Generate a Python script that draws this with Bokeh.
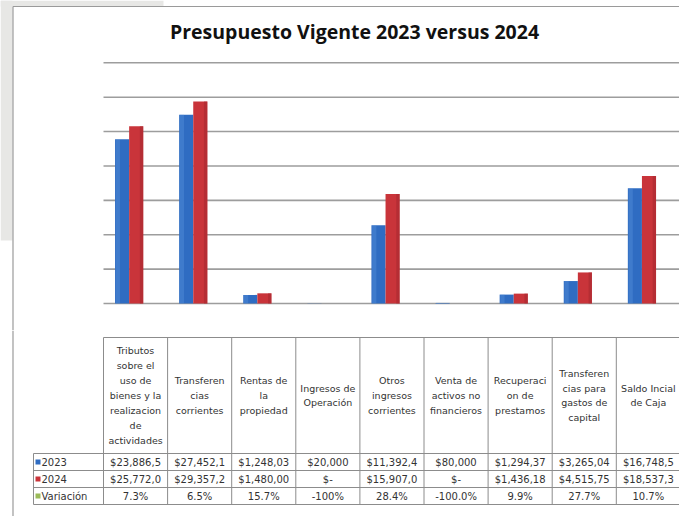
from bokeh.plotting import figure
from bokeh.layouts import column
from bokeh.models import Range1d, Label
from bokeh.embed import file_html
from bokeh.resources import INLINE
from bokeh.core.properties import value

# ---------------- data ----------------
categories = [
    "Tributos\nsobre el\nuso de\nbienes y la\nrealizacion\nde\nactividades",
    "Transferen\ncias\ncorrientes",
    "Rentas de\nla\npropiedad",
    "Ingresos de\nOperación",
    "Otros\ningresos\ncorrientes",
    "Venta de\nactivos no\nfinancieros",
    "Recuperaci\non de\nprestamos",
    "Transferen\ncias para\ngastos de\ncapital",
    "Saldo Incial\nde Caja",
]
values_2023 = [23886.5, 27452.1, 1248.03, 20.0, 11392.4, 80.0, 1294.37, 3265.04, 16748.5]
values_2024 = [25772.0, 29357.2, 1480.00, 0.0, 15907.0, 0.0, 1436.18, 4515.75, 18537.3]
labels_2023 = ["$23,886,5", "$27,452,1", "$1,248,03", "$20,000", "$11,392,4",
               "$80,000", "$1,294,37", "$3,265,04", "$16,748,5"]
labels_2024 = ["$25,772,0", "$29,357,2", "$1,480,00", "$-", "$15,907,0",
               "$-", "$1,436,18", "$4,515,75", "$18,537,3"]
labels_var = ["7.3%", "6.5%", "15.7%", "-100%", "28.4%", "-100.0%", "9.9%", "27.7%", "10.7%"]
series_names = ["2023", "2024", "Variación"]
grid_values = [0, 5000, 10000, 15000, 20000, 25000, 30000, 35000]
title_text = "Presupuesto Vigente 2023 versus 2024"

# ---------------- layout constants (px) ----------------
W = 679
H1 = 330          # chart part
H2 = 186          # table part
col_px = 64.1     # width of one table column
col0_px = 103     # x where first category column starts
base_px = 303     # baseline y from top
top_px = 62.3     # y of max gridline from top
ymax = 35000.0
scale = (base_px - top_px) / ymax   # px per unit

x_start = -col0_px / col_px
x_end = (W - col0_px) / col_px
y_start = -(H1 - base_px) / scale
y_end = ymax + top_px / scale


def px_x(px):
    return (px - col0_px) / col_px


def px_y(py):
    return y_end - py / scale


xr = Range1d(x_start, x_end)

FONT = "Open Sans"
TFONT = "DejaVu Sans"
TXT = "#333333"
BLUE = "#2f6cc2"
BLUE_L = "#5f98e0"
RED = "#c9343a"
RED_D = "#a82a30"
GREEN = "#9bbb59"
LINE = "#8c8c8c"
FRAME = "#9a9a9a"
GRAYBG = "#e7e7e5"

p = figure(width=W, height=H1, x_range=xr, y_range=Range1d(y_start, y_end),
           x_axis_type=None, y_axis_type=None, toolbar_location=None,
           output_backend="svg", min_border=0)
p.outline_line_color = None
p.grid.visible = False

# page background decoration (gray area behind the chart box, top-left)
p.quad(left=[x_start], right=[px_x(12)], top=[y_end], bottom=[px_y(240)],
       fill_color=GRAYBG, line_color=None)
p.quad(left=[x_start], right=[px_x(163)], top=[y_end], bottom=[px_y(6)],
       fill_color=GRAYBG, line_color=None)

n = len(categories)
# gridlines
p.segment(x0=[0] * len(grid_values), x1=[x_end] * len(grid_values),
          y0=grid_values, y1=grid_values, line_color="#9d9d9d", line_width=1.6)

bw = 0.22
xc = [i + 0.5 - 0.1 for i in range(n)]
xb = [x - bw / 2 for x in xc]
xr_ = [x + bw / 2 for x in xc]
p.vbar(x=xb, top=values_2023, bottom=0, width=bw, fill_color=BLUE, line_color=None)
p.vbar(x=xr_, top=values_2024, bottom=0, width=bw, fill_color=RED, line_color=None)
# shading for a 3D look
p.vbar(x=[x - bw * 0.3 for x in xb], top=values_2023, bottom=0, width=bw * 0.3,
       fill_color=BLUE_L, fill_alpha=0.35, line_color=None)
p.vbar(x=[x + bw * 0.38 for x in xr_], top=values_2024, bottom=0, width=bw * 0.24,
       fill_color=RED_D, fill_alpha=0.6, line_color=None)

# title
p.add_layout(Label(x=px_x(354), y=px_y(31), text=title_text, text_align="center",
                   text_baseline="middle", text_font=FONT, text_font_size="19.5px",
                   text_font_style="bold", text_color="#111111"))
# chart frame borders (left and top)
p.segment(x0=[px_x(12.5)], x1=[px_x(12.5)], y0=[y_start], y1=[px_y(6)],
          line_color=FRAME, line_width=1.2)
p.segment(x0=[px_x(12.5)], x1=[x_end], y0=[px_y(6)], y1=[px_y(6)],
          line_color=FRAME, line_width=1.2)

# ---------------- table ----------------
t = figure(width=W, height=H2, x_range=xr, y_range=Range1d(H2, 0),
           x_axis_type=None, y_axis_type=None, toolbar_location=None,
           output_backend="svg", min_border=0)
t.outline_line_color = None
t.grid.visible = False

row_top = 7
row_hdr = 123
row_lines = [123, 140, 157, 174]
leg_x = px_x(33)

# frame left border continues
t.segment(x0=[px_x(12.5)], x1=[px_x(12.5)], y0=[0], y1=[H2],
          line_color=FRAME, line_width=1.2)

# vertical lines
t.segment(x0=list(range(n + 1)), x1=list(range(n + 1)),
          y0=[row_top] * (n + 1), y1=[row_lines[-1]] * (n + 1), line_color=LINE, line_width=1)
t.segment(x0=[leg_x], x1=[leg_x], y0=[row_hdr], y1=[row_lines[-1]], line_color=LINE, line_width=1)
# horizontal lines
t.segment(x0=[0], x1=[n], y0=[row_top], y1=[row_top], line_color=LINE, line_width=1)
t.segment(x0=[leg_x] * len(row_lines), x1=[n] * len(row_lines),
          y0=row_lines, y1=row_lines, line_color=LINE, line_width=1)

cx = [i + 0.5 for i in range(n)]
t.text(x=cx, y=[(row_top + row_hdr) / 2] * n, text=categories,
       text_align="center", text_baseline="middle", text_font=value(TFONT),
       text_font_size="9.5px", text_color=TXT, text_line_height=1.35)

row_centers = [(row_lines[i] + row_lines[i + 1]) / 2 for i in range(3)]
for labs, yc in zip([labels_2023, labels_2024, labels_var], row_centers):
    t.text(x=cx, y=[yc] * n, text=labs, text_align="center", text_baseline="middle",
           text_font=value(TFONT), text_font_size="10px", text_color=TXT)

# legend keys
key_x = px_x(37.5)
t.scatter(x=[key_x] * 3, y=row_centers, marker="square", size=5,
          fill_color=[BLUE, RED, GREEN], line_color=None)
t.text(x=[px_x(41)] * 3, y=row_centers, text=series_names,
       text_align="left", text_baseline="middle", text_font=value(TFONT),
       text_font_size="10px", text_color=TXT)

layout = column(p, t, spacing=0)
open("out.html", "w").write(file_html(layout, INLINE))
